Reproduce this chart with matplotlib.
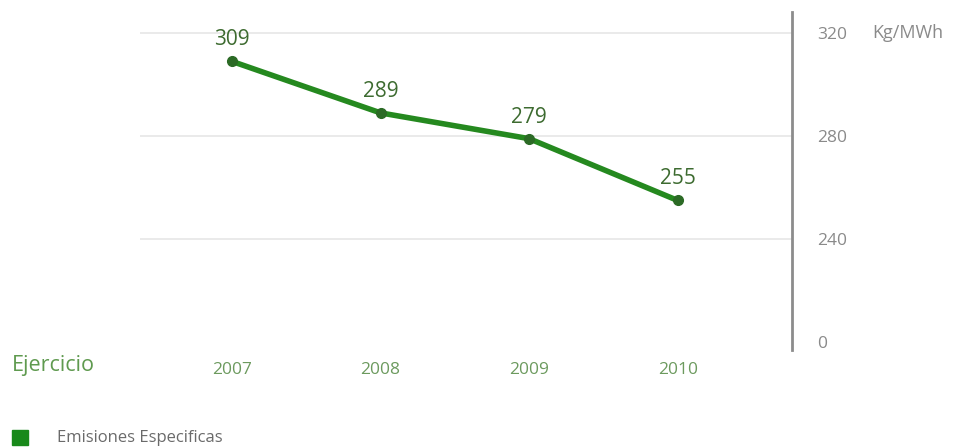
import matplotlib.pyplot as plt
from matplotlib.patches import Rectangle

plt.rcParams['font.family'] = ['Open Sans', 'DejaVu Sans']

# data
years = ['2007', '2008', '2009', '2010']
emisiones = [309, 289, 279, 255]
ytick_vals = [200, 240, 280, 320]
ytick_labels = ['0', '240', '280', '320']

fig = plt.figure(figsize=(9.79, 4.47), dpi=100)
ax = fig.add_axes([140 / 979, 97 / 447, 652 / 979, 338 / 447])

x = list(range(len(years)))
ax.plot(x, emisiones, color='#25891f', lw=4, solid_capstyle='round', zorder=3)
ax.plot(x, emisiones, 'o', color='#2b6a25', ms=7, zorder=4)

for xi, v in zip(x, emisiones):
    ax.annotate(str(v), (xi, v), xytext=(0, 8), textcoords='offset points',
                ha='center', va='bottom', fontsize=15, color='#3d6b30')

ax.set_xlim(-0.62, 3.77)
ax.set_ylim(196.9, 328.2)

# grid lines
for v in ytick_vals[1:]:
    ax.axhline(v, color='#e6e6e6', lw=1.2, zorder=1)

ax.set_yticks(ytick_vals)
ax.set_yticklabels(ytick_labels)
ax.yaxis.tick_right()
ax.tick_params(axis='y', length=0, pad=18, labelsize=12.5, labelcolor='#8a8a8a')

ax.set_xticks(x)
ax.set_xticklabels(years)
ax.tick_params(axis='x', length=0, pad=9, labelsize=12.5, labelcolor='#6c9a5e')

for s in ['top', 'left', 'bottom']:
    ax.spines[s].set_visible(False)
ax.spines['right'].set_color('#8c8c8c')
ax.spines['right'].set_linewidth(2)

fig.text(872 / 979, 1 - 33 / 447, 'Kg/MWh', fontsize=13, color='#8a8a8a',
         va='center', ha='left')
fig.text(12 / 979, 1 - 366 / 447, 'Ejercicio', fontsize=15.5, color='#5f9a4f',
         va='center', ha='left')

# legend
fig.patches.append(Rectangle((12 / 979, 1 - 445 / 447), 16 / 979, 15 / 447,
                             transform=fig.transFigure, color='#18891a'))
fig.text(57 / 979, 1 - 438 / 447, 'Emisiones Especificas', fontsize=12,
         color='#6a6a6a', va='center', ha='left')

fig.savefig('out.png', dpi=100, facecolor='white')
